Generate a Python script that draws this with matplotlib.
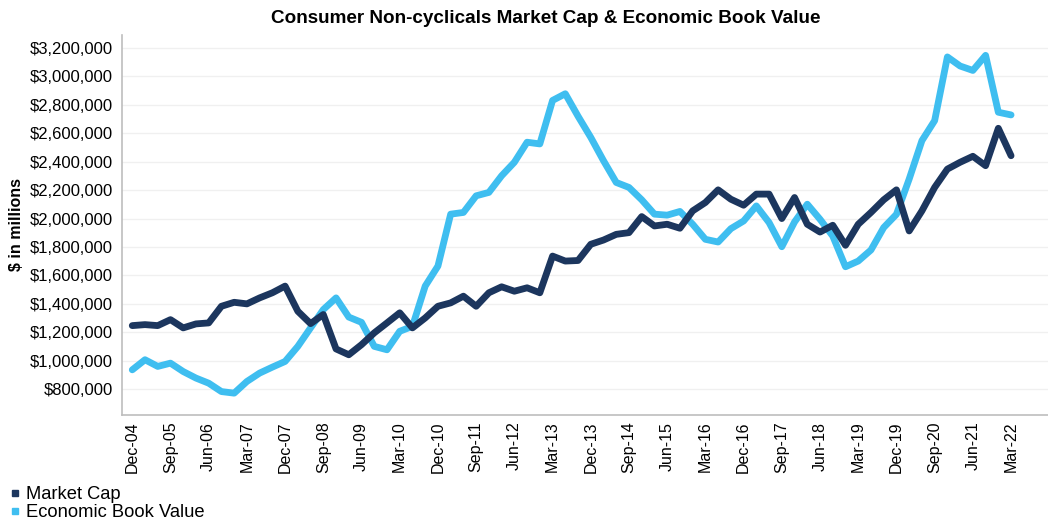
import matplotlib.pyplot as plt
from matplotlib.lines import Line2D
from matplotlib.ticker import FuncFormatter

plt.rcParams['font.family'] = ['Liberation Sans', 'DejaVu Sans']

# quarterly values, Dec-04 .. Mar-22, $ in millions
market_cap = [1247000, 1254000, 1247000, 1289000, 1231000, 1259000, 1266000, 1383000, 1411000, 1400000,
              1442000, 1478000, 1525000, 1348000, 1261000, 1325000, 1083000, 1042000, 1113000, 1196000,
              1266000, 1337000, 1231000, 1301000, 1383000, 1407000, 1454000, 1383000, 1478000, 1520000,
              1489000, 1513000, 1478000, 1736000, 1701000, 1705000, 1819000, 1849000, 1889000, 1901000,
              2014000, 1948000, 1960000, 1932000, 2054000, 2113000, 2202000, 2136000, 2094000, 2172000,
              2172000, 2000000, 2148000, 1960000, 1905000, 1953000, 1812000, 1960000, 2043000, 2132000,
              2202000, 1913000, 2054000, 2219000, 2348000, 2396000, 2438000, 2372000, 2635000, 2442000]

econ_book_value = [936000, 1007000, 960000, 983000, 924000, 878000, 842000, 783000, 772000, 854000,
                   913000, 955000, 995000, 1101000, 1231000, 1360000, 1442000, 1307000, 1270000, 1101000,
                   1077000, 1207000, 1242000, 1525000, 1666000, 2031000, 2043000, 2160000, 2184000, 2301000,
                   2396000, 2537000, 2525000, 2831000, 2878000, 2720000, 2571000, 2407000, 2254000, 2219000,
                   2132000, 2031000, 2024000, 2050000, 1960000, 1854000, 1835000, 1929000, 1983000, 2089000,
                   1972000, 1802000, 1976000, 2101000, 1995000, 1877000, 1661000, 1701000, 1779000, 1937000,
                   2030000, 2278000, 2548000, 2689000, 3137000, 3073000, 3042000, 3148000, 2748000, 2729000]

tick_labels = ['Dec-04', 'Sep-05', 'Jun-06', 'Mar-07', 'Dec-07', 'Sep-08', 'Jun-09', 'Mar-10',
               'Dec-10', 'Sep-11', 'Jun-12', 'Mar-13', 'Dec-13', 'Sep-14', 'Jun-15', 'Mar-16',
               'Dec-16', 'Sep-17', 'Jun-18', 'Mar-19', 'Dec-19', 'Sep-20', 'Jun-21', 'Mar-22']

dark = '#1c365e'
light = '#3fbef0'

fig = plt.figure(figsize=(10.48, 5.25), dpi=100)
ax = fig.add_axes([0.116, 0.21, 0.884, 0.723])

x = list(range(len(market_cap)))
ax.plot(x, econ_book_value, color=light, lw=4.9, solid_capstyle='round', solid_joinstyle='round')
ax.plot(x, market_cap, color=dark, lw=4.9, solid_capstyle='round', solid_joinstyle='round')

ax.set_xlim(-0.84, 71.9)
ax.set_ylim(620000, 3290000)
ax.set_yticks(range(800000, 3200001, 200000))
ax.yaxis.set_major_formatter(FuncFormatter(lambda v, p: '${:,.0f}'.format(v)))
ax.set_xticks(x[::3])
ax.set_xticklabels(tick_labels, rotation=90, fontsize=11.5)
ax.tick_params(axis='y', labelsize=12, length=0, pad=6)
ax.tick_params(axis='x', length=0, pad=5)

ax.grid(axis='y', color='#f0f0f0', lw=1)
ax.set_axisbelow(True)
for s in ['top', 'right']:
    ax.spines[s].set_visible(False)
ax.spines['left'].set_color('#bdbdbd')
ax.spines['bottom'].set_color('#bdbdbd')
ax.spines['left'].set_linewidth(1.2)
ax.spines['bottom'].set_linewidth(1.2)

ax.set_ylabel('$ in millions', fontsize=11.5, fontweight='bold', labelpad=4)
fig.text(0.521, 0.965, 'Consumer Non-cyclicals Market Cap & Economic Book Value',
         ha='center', va='center', fontsize=13.6, fontweight='bold')

handles = [Line2D([], [], marker='s', ls='', color=dark, markersize=5),
           Line2D([], [], marker='s', ls='', color=light, markersize=5)]
fig.legend(handles, ['Market Cap', 'Economic Book Value'], loc='lower left',
           bbox_to_anchor=(0.006, 0.0), frameon=False, fontsize=13.2,
           handlelength=0.5, handletextpad=0.35, labelspacing=0.05,
           borderpad=0.2, borderaxespad=0.0)

fig.savefig('out.png', dpi=100)
